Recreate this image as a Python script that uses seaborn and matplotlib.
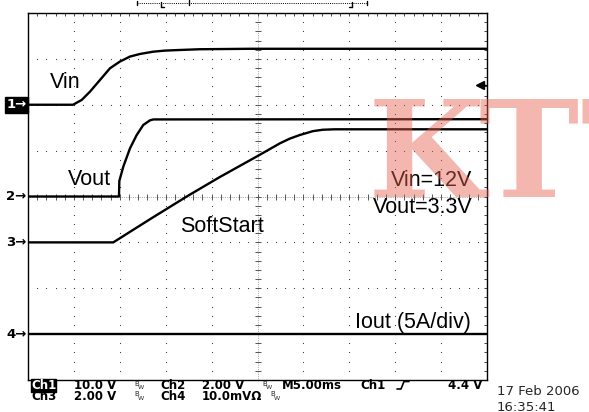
import numpy as np
import pandas as pd
import matplotlib
matplotlib.use("Agg")
import matplotlib.pyplot as plt
import seaborn as sns

W, H = 589, 412

# scope settings
ms_per_div = 5.0
channels = ["Vin", "Vout", "SoftStart", "Iout"]
ch_ground = [6, 4, 3, 1]          # division where each channel's ground marker sits
ch_scale = [10.0, 2.0, 2.0, 5.0]  # units per division
trig_level = 4.4                  # V on Ch1

# traces: time in ms, value in V (A for Iout)
vin_t = [0, 4.9, 5.85, 6.75, 7.84, 8.93, 10.0, 11.1, 12.2, 13.65, 14.9, 16.55, 18.7, 24.2, 50]
vin_v = [0, 0, 1.05, 2.85, 5.4, 7.95, 9.4, 10.5, 11.07, 11.57, 11.8, 11.94, 12.1, 12.2, 12.2]

vout_t = [0, 9.91, 9.95, 10.38, 11.11, 11.84, 12.56, 13.29, 13.65, 50]
vout_v = [0, 0, 0.68, 1.30, 2.10, 2.68, 3.12, 3.32, 3.36, 3.37]

ss_t = [0, 9.29, 13.29, 17.29, 20.9, 24.9, 27.45, 28.5, 29.6, 31.05, 32.1, 33.4, 50]
ss_v = [0, 0, 1.01, 2.0, 2.85, 3.74, 4.32, 4.52, 4.68, 4.85, 4.91, 4.93, 4.93]

iout_t = [0, 50]
iout_a = [0, 0]

traces = [(vin_t, vin_v), (vout_t, vout_v), (ss_t, ss_v), (iout_t, iout_a)]

rows = []
for name, gnd, scl, (tt, vv) in zip(channels, ch_ground, ch_scale, traces):
    for t, v in zip(tt, vv):
        rows.append({"ch": name, "x": t / ms_per_div, "y": gnd + v / scl})
df = pd.DataFrame(rows)

# labels drawn on the screen
trace_labels = ["Vin", "Vout", "SoftStart", "Iout (5A/div)"]
note_lines = ["Vin=12V", "Vout=3.3V"]

sns.set_style("white")
plt.rcParams["font.family"] = ["Liberation Sans", "DejaVu Sans"]

fig = plt.figure(figsize=(W / 100, H / 100), dpi=100)
ax = fig.add_axes([28 / W, (H - 380) / H, 459 / W, 367 / H])


def fx(px):
    return px / W


def fy(py):
    return 1 - py / H


# graticule: dotted grid lines
minor = np.arange(0, 10.001, 0.2)
minor_y = np.arange(0, 8.001, 0.2)
for k in [1, 2, 3, 4, 6, 7, 8, 9]:
    ax.scatter(np.full(len(minor_y), k), minor_y, s=0.7, color="#333333", lw=0, zorder=1)
for k in [1, 2, 3, 5, 6, 7]:
    ax.scatter(minor, np.full(len(minor), k), s=0.7, color="#333333", lw=0, zorder=1)
# centre crosshair with small ticks
ax.axvline(5, color="#666666", lw=0.5, ls=(0, (1, 1.6)), zorder=1)
ax.axhline(4, color="#666666", lw=0.5, ls=(0, (1, 1.6)), zorder=1)
ax.plot(np.full(len(minor_y), 5), minor_y, ls="none", marker="_", ms=4, mew=0.7, color="#555555", zorder=1)
ax.plot(minor, np.full(len(minor), 4), ls="none", marker="|", ms=4, mew=0.7, color="#555555", zorder=1)

sns.lineplot(data=df, x="x", y="y", units="ch", estimator=None, sort=False,
             color="black", lw=1.7, ax=ax, legend=False, zorder=3)

ax.set_xlim(0, 10)
ax.set_ylim(0, 8)
ax.set_xticks(np.arange(0, 10.001, 1))
ax.set_yticks(np.arange(0, 8.001, 1))
ax.set_xticks(minor, minor=True)
ax.set_yticks(minor_y, minor=True)
ax.tick_params(which="both", direction="in", length=2.5, width=0.7, color="#444444",
               top=True, right=True, labelbottom=False, labelleft=False)
ax.set_xlabel("")
ax.set_ylabel("")
for s in ax.spines.values():
    s.set_color("black")
    s.set_linewidth(1.0)

# trace labels
lab_kw = dict(fontsize=15.5, color="black", va="baseline", zorder=4)
ax.text(0.48, 6.36, trace_labels[0], ha="left", **lab_kw)
ax.text(0.87, 4.25, trace_labels[1], ha="left", **lab_kw)
ax.text(3.31, 3.23, trace_labels[2], ha="left", **lab_kw)
ax.text(7.12, 1.13, trace_labels[3], ha="left", **lab_kw)
ax.text(9.69, 4.23, note_lines[0], ha="right", **lab_kw)
ax.text(9.69, 3.64, note_lines[1], ha="right", **lab_kw)

# channel ground markers on the left
for i, gnd in enumerate(ch_ground):
    if i == 0:
        ax.text(-0.03, gnd, f"{i + 1}\u2192", ha="right", va="center", fontsize=9.5, fontweight="bold",
                color="white", family="DejaVu Sans", clip_on=False,
                bbox=dict(boxstyle="square,pad=0.12", fc="black", ec="black"))
    else:
        ax.text(-0.03, gnd, f"{i + 1}\u2192", ha="right", va="center", fontsize=9.5, fontweight="bold",
                color="black", family="DejaVu Sans", clip_on=False)

# trigger level arrow on the right
trig_y = ch_ground[0] + trig_level / ch_scale[0]
ax.plot([9.82, 10], [trig_y, trig_y], color="black", lw=1.0, clip_on=False, zorder=4)
ax.plot([9.84], [trig_y], marker="<", ms=6, color="black", clip_on=False, zorder=4)

# record position bar above the screen
bar_y = 8.22
ax.plot([2.37, 7.39], [bar_y, bar_y], color="black", lw=0.7, ls=(0, (1, 1.2)), clip_on=False)
for xb, y0, y1 in [(2.37, 8.26, 8.18), (2.9, 8.24, 8.12), (3.51, 8.28, 8.18), (7.06, 8.24, 8.12), (7.39, 8.26, 8.18)]:
    ax.plot([xb, xb], [y0, y1], color="black", lw=1.0, clip_on=False)
ax.plot([2.9, 2.96], [8.12, 8.12], color="black", lw=1.0, clip_on=False)
ax.plot([7.0, 7.06], [8.12, 8.12], color="black", lw=1.0, clip_on=False)

# status lines under the screen
st = dict(fontsize=8.5, family="DejaVu Sans", fontweight="bold", color="black", va="baseline")
r1, r2 = 389, 399.5
fig.text(fx(31), fy(r1), "Ch1", color="white", fontweight="bold", fontsize=8.5, family="DejaVu Sans",
         va="baseline", bbox=dict(boxstyle="square,pad=0.02", fc="black", ec="black"))
fig.text(fx(74), fy(r1), "10.0 V", **st)
fig.text(fx(160), fy(r1), "Ch2", **st)
fig.text(fx(202), fy(r1), "2.00 V", **st)
fig.text(fx(282), fy(r1), "M5.00ms", **st)
fig.text(fx(360), fy(r1), "Ch1", **st)
fig.text(fx(482), fy(r1), "4.4 V", ha="right", **st)
fig.text(fx(31), fy(r2), "Ch3", **st)
fig.text(fx(74), fy(r2), "2.00 V", **st)
fig.text(fx(160), fy(r2), "Ch4", **st)
fig.text(fx(202), fy(r2), "10.0mV\u03a9", **st)
fig.text(fx(497), fy(395), "17 Feb 2006", fontsize=9.5, family="DejaVu Sans", va="baseline")
fig.text(fx(497), fy(411), "16:35:41", fontsize=9.5, family="DejaVu Sans", va="baseline")
for bx, by in [(134, r1), (262, r1), (134, r2), (270, r2)]:
    fig.text(fx(bx), fy(by - 3.5), "B", fontsize=5, family="DejaVu Sans", va="baseline")
    fig.text(fx(bx + 3.5), fy(by), "W", fontsize=4.5, family="DejaVu Sans", va="baseline")
# rising edge glyph
fig.add_artist(plt.Line2D([fx(397), fx(401), fx(404), fx(409)], [fy(389), fy(389), fy(381.5), fy(381.5)],
                          color="black", lw=1.2))

# watermark
wm = dict(fontsize=97, family="DejaVu Serif", fontweight="bold", color="#e8604f", alpha=0.45,
          va="baseline", zorder=10)
fig.text(fx(368), fy(197), "K", **wm)
fig.text(fx(478), fy(197), "T", **wm)
fig.text(fx(580), fy(197), "T", **wm)

fig.savefig("out.png", dpi=100)
